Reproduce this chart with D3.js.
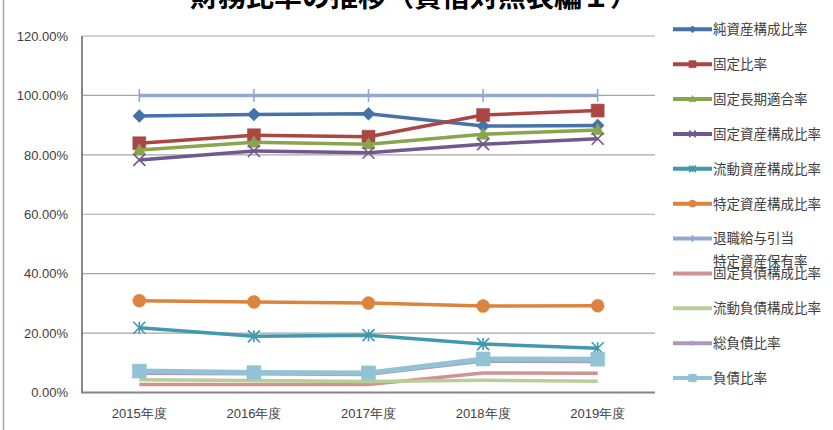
<!DOCTYPE html>
<html lang="ja">
<head>
<meta charset="UTF-8">
<title>財務比率の推移</title>
<script src="https://cdn.jsdelivr.net/npm/d3@7"></script>
<style>
    body { margin: 0; background: #fff; }
    svg { display: block; font-family: "Noto Sans CJK JP", "Noto Sans", sans-serif; }
    .axis text { fill: #404040; font-size: 13px; }
    .legend text { fill: #404040; font-size: 13.5px; }
</style>
</head>
<body>
<script>
    const width = 833;
    const height = 430;

    // Categories and tick labels
    const years = ["2015年度", "2016年度", "2017年度", "2018年度", "2019年度"];
    const yTicks = [0, 20, 40, 60, 80, 100, 120];

    // Series names (\n = legend line break)
    const seriesNames = [
        "純資産構成比率",
        "固定比率",
        "固定長期適合率",
        "固定資産構成比率",
        "流動資産構成比率",
        "特定資産構成比率",
        "退職給与引当\n特定資産保有率",
        "固定負債構成比率",
        "流動負債構成比率",
        "総負債比率",
        "負債比率"
    ];

    // Series values (%)
    const netAssets       = [93.1, 93.6, 93.8, 89.7, 89.9];
    const fixedRatio      = [83.9, 86.6, 86.1, 93.4, 94.9];
    const fixedLongTerm   = [81.6, 84.2, 83.6, 86.9, 88.4];
    const fixedAssets     = [78.3, 81.3, 80.7, 83.6, 85.4];
    const currentAssets   = [21.8, 18.9, 19.3, 16.3, 14.9];
    const specifiedAssets = [30.9, 30.5, 30.1, 29.1, 29.2];
    const retirementFund  = [100, 100, 100, 100, 100];
    const fixedLiab       = [2.7, 2.7, 2.7, 6.6, 6.5];
    const currentLiab     = [4.3, 4.0, 3.7, 4.1, 3.8];
    const totalLiab       = [6.5, 6.3, 6.1, 10.6, 10.4];
    const debtRatio       = [7.2, 6.7, 6.6, 11.3, 11.2];

    const seriesValues = [netAssets, fixedRatio, fixedLongTerm, fixedAssets, currentAssets,
                          specifiedAssets, retirementFund, fixedLiab, currentLiab, totalLiab, debtRatio];

    // Styles
    const colors  = ["#4572A7", "#AA4643", "#89A54E", "#71588F", "#4198AF", "#DB843D",
                     "#93A9CF", "#D19392", "#B9CD96", "#A99BBD", "#92C3D4"];
    const markers = ["diamond", "square", "triangle", "cross", "star", "circle",
                     "tick", null, null, "diamond", "square"];
    const markerR = [6.5, 6.5, 6.5, 6, 6, 6.5, 6.5, 0, 0, 4.5, 7];
    const lineW   = [3.5, 3.5, 3.5, 3.5, 3.5, 3.5, 3.5, 3.5, 3.5, 3.5, 5];

    const plot = {left: 82, right: 655, top: 36, bottom: 392.5};

    const svg = d3.select("body").append("svg")
        .attr("width", width)
        .attr("height", height);

    // chart frame (only the left edge shows)
    svg.append("line")
        .attr("x1", 3.5).attr("x2", 3.5)
        .attr("y1", 0).attr("y2", height)
        .attr("stroke", "#A6A6A6").attr("stroke-width", 1.5);

    // title, cut off at the top of the picture
    svg.append("text")
        .attr("x", 190).attr("y", 7)
        .attr("font-size", 28).attr("font-weight", "bold")
        .attr("fill", "#000")
        .text("財務比率の推移（貸借対照表編１）");

    const x = d3.scaleBand().domain(years).range([plot.left, plot.right]);
    const y = d3.scaleLinear().domain([0, 120]).range([plot.bottom, plot.top]);

    // gridlines
    svg.append("g")
        .selectAll("line")
        .data(yTicks.filter(d => d > 0))
        .join("line")
          .attr("x1", plot.left).attr("x2", plot.right)
          .attr("y1", d => y(d)).attr("y2", d => y(d))
          .attr("stroke", "#A6A6A6").attr("stroke-width", 1.2);

    // axes
    svg.append("g")
        .attr("class", "axis")
        .attr("transform", `translate(${plot.left},0)`)
        .call(d3.axisLeft(y).tickValues(yTicks).tickSize(0).tickPadding(14)
                .tickFormat(d => d.toFixed(2) + "%"))
        .call(g => g.select(".domain").remove());

    svg.append("g")
        .attr("class", "axis")
        .attr("transform", `translate(0,${plot.bottom})`)
        .call(d3.axisBottom(x).tickSize(0).tickPadding(16))
        .call(g => g.select(".domain").remove());

    svg.append("line")
        .attr("x1", plot.left).attr("x2", plot.left)
        .attr("y1", plot.top).attr("y2", plot.bottom)
        .attr("stroke", "#868686").attr("stroke-width", 2);
    svg.append("line")
        .attr("x1", plot.left - 1).attr("x2", plot.right)
        .attr("y1", plot.bottom).attr("y2", plot.bottom)
        .attr("stroke", "#868686").attr("stroke-width", 2);

    // marker paths, s = half size
    function markerPath(type, s) {
        switch (type) {
            case "diamond":  return `M0,${-s}L${s},0L0,${s}L${-s},0Z`;
            case "square":   return `M${-s},${-s}h${2*s}v${2*s}h${-2*s}Z`;
            case "triangle": return `M0,${-s}L${s},${s*0.75}L${-s},${s*0.75}Z`;
            case "cross":    return `M${-s},${-s}L${s},${s}M${s},${-s}L${-s},${s}`;
            case "star":     return `M${-s},${-s}L${s},${s}M${s},${-s}L${-s},${s}M0,${-s}V${s}`;
            case "tick":     return `M0,${-s}V${s}`;
            case "circle":   return d3.symbol(d3.symbolCircle, Math.PI * s * s)();
        }
        return null;
    }
    const isStroked = t => t === "cross" || t === "star" || t === "tick";

    function drawMarker(g, type, s, color) {
        if (!type) return;
        g.append("path")
            .attr("d", markerPath(type, s))
            .attr("fill", isStroked(type) ? "none" : color)
            .attr("stroke", color)
            .attr("stroke-width", isStroked(type) ? 1.6 : 0.5);
    }

    const line = d3.line()
        .x((d, i) => x(years[i]) + x.bandwidth() / 2)
        .y(d => y(d));

    const series = seriesNames.map((name, i) => ({name, values: seriesValues[i], i}));

    series.forEach(s => {
        const g = svg.append("g");
        g.append("path")
            .attr("d", line(s.values))
            .attr("fill", "none")
            .attr("stroke", colors[s.i])
            .attr("stroke-width", lineW[s.i])
            .attr("stroke-linejoin", "round");
        s.values.forEach((v, k) => {
            const m = g.append("g")
                .attr("transform", `translate(${x(years[k]) + x.bandwidth() / 2},${y(v)})`);
            drawMarker(m, markers[s.i], markerR[s.i], colors[s.i]);
        });
    });

    // legend
    const legendTop = 29.3;
    const legendStep = 34.87;
    const legend = svg.append("g").attr("class", "legend");

    series.forEach(s => {
        const ly = legendTop + s.i * legendStep;
        const g = legend.append("g").attr("transform", `translate(673,${ly})`);
        g.append("line")
            .attr("x1", 0).attr("x2", 39)
            .attr("stroke", colors[s.i]).attr("stroke-width", 4);
        const m = g.append("g").attr("transform", "translate(19.5,0)");
        drawMarker(m, markers[s.i], markerR[s.i] * 0.55, colors[s.i]);
        s.name.split("\n").forEach((t, k) => {
            g.append("text")
                .attr("x", 40)
                .attr("y", k * 22.5)
                .attr("dy", "0.36em")
                .text(t);
        });
    });
</script>
</body>
</html>
